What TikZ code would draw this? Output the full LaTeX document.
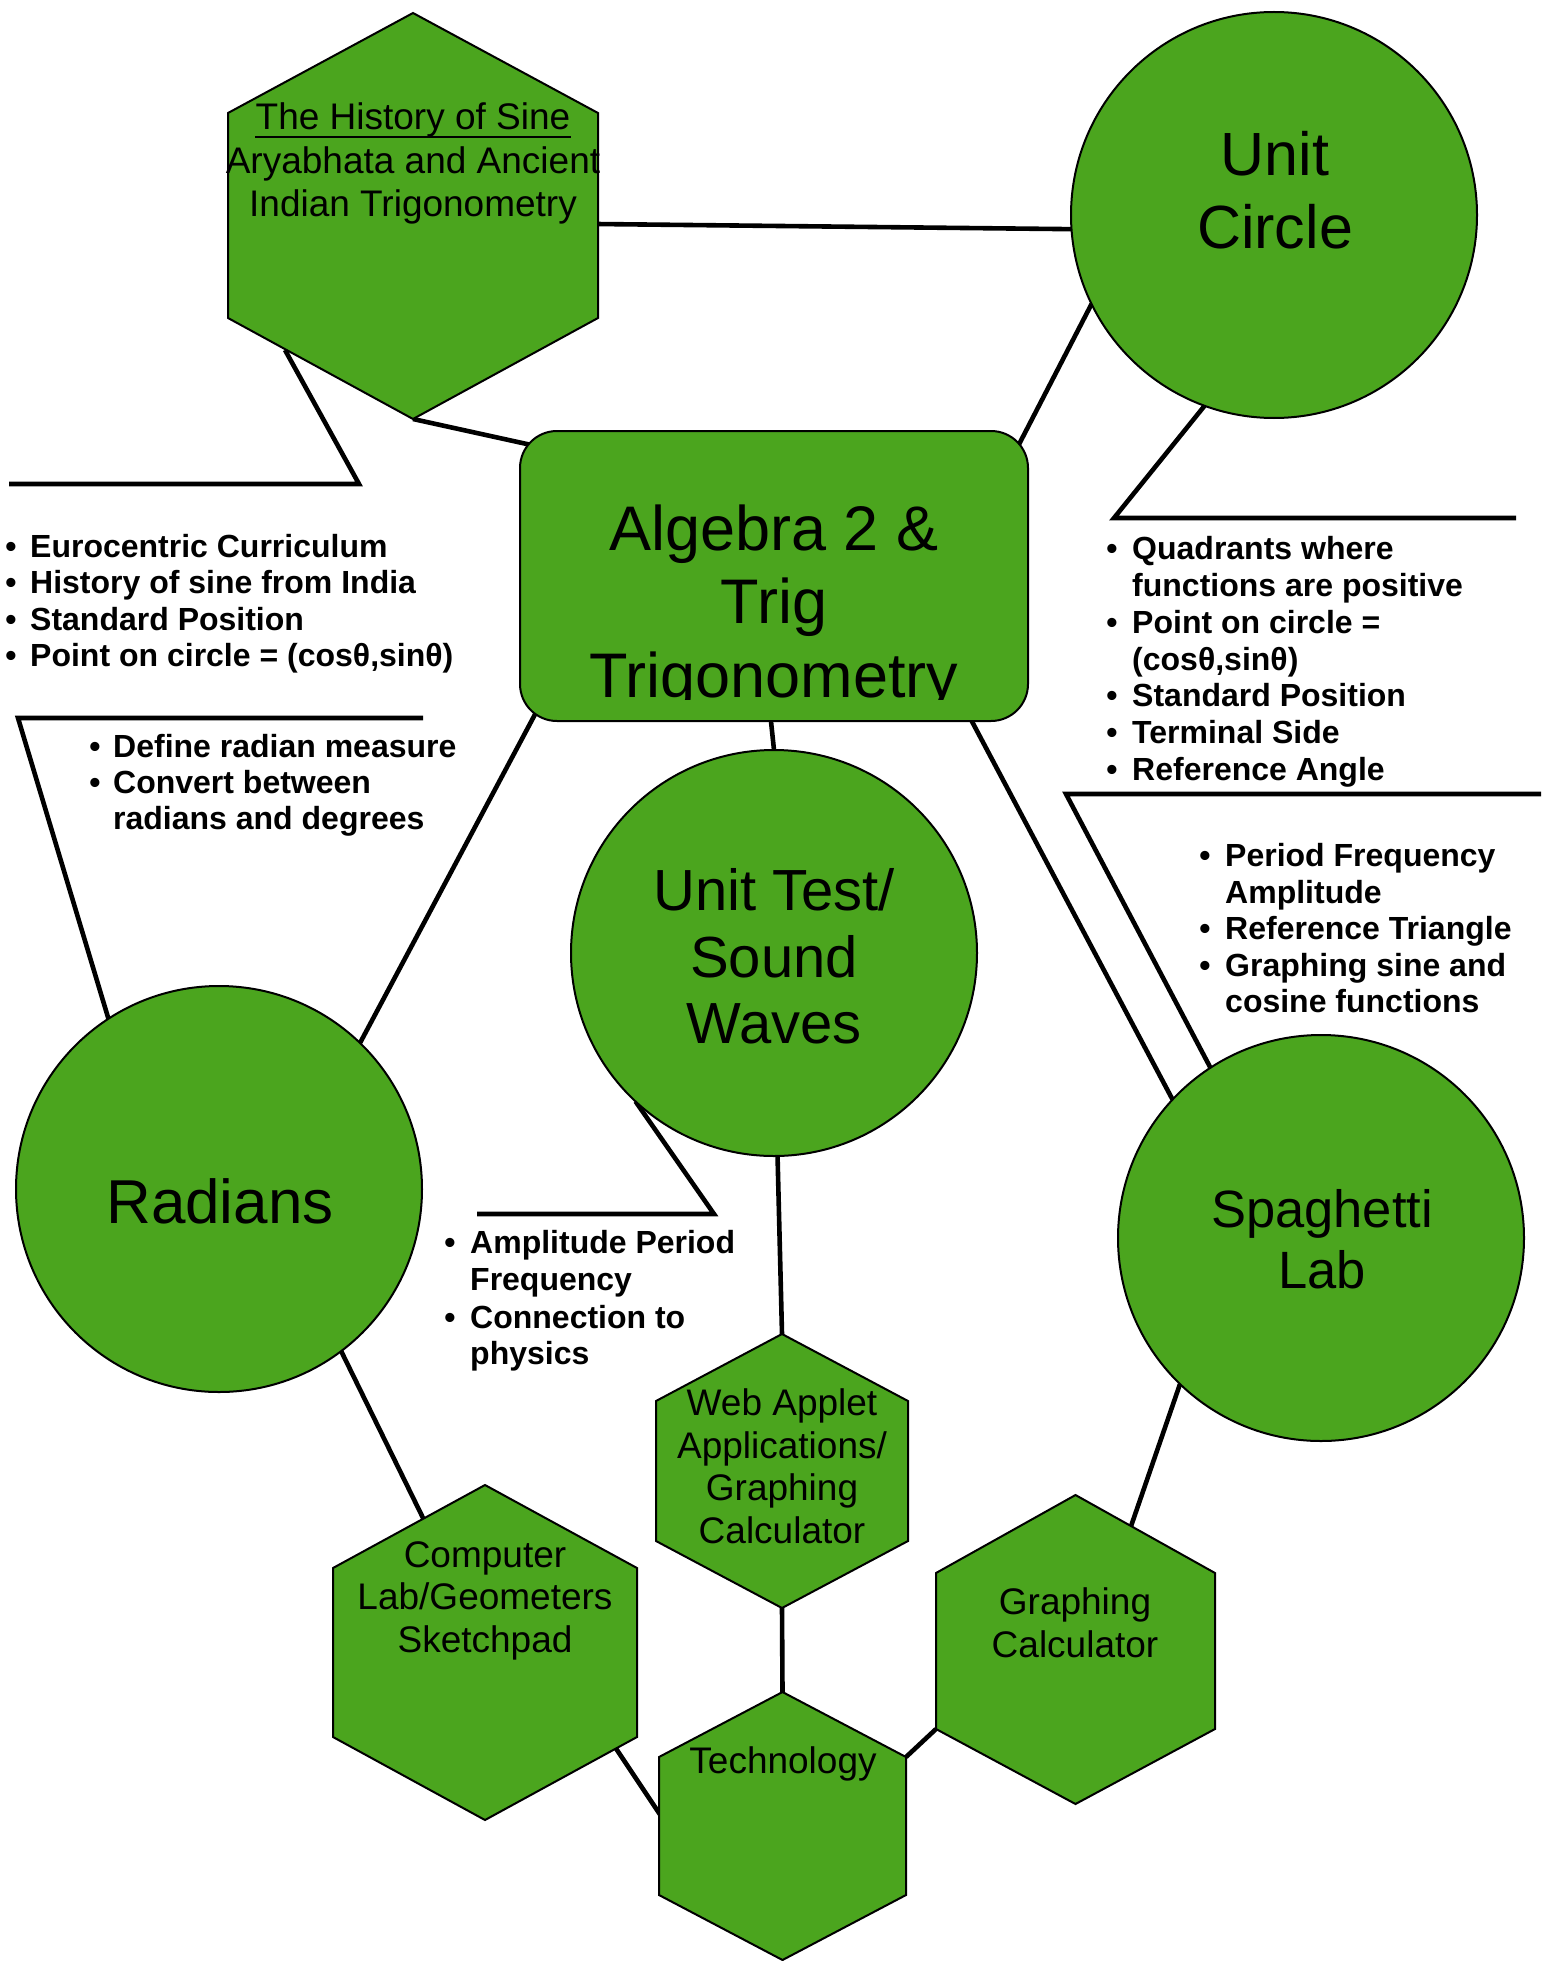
\documentclass[tikz,border=0pt]{standalone}
\usepackage{fontspec}
\setmainfont{Liberation Sans}
\pgfdeclarelayer{back}
\pgfdeclarelayer{bg}
\pgfsetlayers{back,bg,main}
\definecolor{cgreen}{RGB}{75,165,30}
\tikzset{
  shapeline/.style={draw=black, line width=2pt, fill=cgreen},
  conn/.style={line width=4.6pt, draw=black},
  bigcirc/.style={circle, shapeline, minimum size=406pt, inner sep=0pt, outer sep=0pt},
  hexlbl/.style={anchor=base, inner sep=0pt, font=\fontsize{37}{43}\selectfont},
  algtxt/.style={anchor=base, inner sep=0pt, font=\fontsize{63}{73}\selectfont},
  bul/.style={anchor=base, inner sep=0pt, font=\fontsize{32}{37}\selectfont\bfseries},
  bultxt/.style={anchor=base west, inner sep=0pt, font=\fontsize{32}{37}\selectfont\bfseries},
}
\newcommand\myhex[7]{%
  \coordinate (#1-t) at (#2,#3);
  \coordinate (#1-ur) at (#2+#7,#4);
  \coordinate (#1-lr) at (#2+#7,#5);
  \coordinate (#1-b) at (#2,#6);
  \coordinate (#1-ll) at (#2-#7,#5);
  \coordinate (#1-ul) at (#2-#7,#4);
  \draw[shapeline] (#1-t) -- (#1-ur) -- (#1-lr) -- (#1-b) -- (#1-ll) -- (#1-ul) -- cycle;}
\newcommand\mybul[5]{\node[bul] (#1-b) at (#2,#4) {•}; \node[bultxt] (#1) at (#3,#4) {#5};}
\newcommand\mycont[4]{\node[bultxt] (#1) at (#2,#3) {#4};}
\begin{document}
\begin{tikzpicture}[x=1pt,y=-1pt]
\useasboundingbox (0,0) rectangle (1541,1961);
\begin{pgfonlayer}{back}
\fill[white] (0,0) rectangle (1541,1961);
\end{pgfonlayer}

% hexagons
\myhex{hist}{413}{13}{113}{318}{419}{185}
\myhex{web}{782}{1334}{1401}{1541}{1608}{126}
\myhex{comp}{485}{1485}{1568}{1737}{1820}{152}
\myhex{tech}{782.5}{1692}{1757}{1895}{1960}{123.5}
\myhex{gc}{1075.5}{1495}{1573}{1729}{1804}{139.5}

% central box
\node[draw=black, line width=2pt, fill=cgreen, rounded corners=37pt, minimum width=508pt,
      minimum height=290pt, inner sep=0pt, outer sep=0pt] (alg) at (774,576) {};
\begin{scope}
  \clip (520,431) rectangle (1028,699.5);
  \node[algtxt] (a1) at (774,550) {Algebra 2 \&};
  \node[algtxt] (a2) at (774,623) {Trig};
  \node[algtxt] (a3) at (774,697) {Trigonometry};
\end{scope}

% circles
\node[bigcirc] (uc) at (1274,215) {};
\node[bigcirc] (ut) at (774,953) {};
\node[bigcirc] (rad) at (219,1189) {};
\node[bigcirc] (sp) at (1321,1238) {};

% circle labels
\node[anchor=base, inner sep=0pt, font=\fontsize{61}{72}\selectfont] (uc1) at (1275,176) {Unit};
\node[anchor=base, inner sep=0pt, font=\fontsize{61}{72}\selectfont] (uc2) at (1275,249) {Circle};
\node[anchor=base, inner sep=0pt, font=\fontsize{58}{67}\selectfont] (ut1) at (774,910) {Unit Test/};
\node[anchor=base, inner sep=0pt, font=\fontsize{58}{67}\selectfont] (ut2) at (774,977) {Sound};
\node[anchor=base, inner sep=0pt, font=\fontsize{58}{67}\selectfont] (ut3) at (774,1043) {Waves};
\node[anchor=base, inner sep=0pt, font=\fontsize{62}{72}\selectfont] (rad1) at (220,1223) {Radians};
\node[anchor=base, inner sep=0pt, font=\fontsize{52.5}{61}\selectfont] (sp1) at (1322,1227) {Spaghetti};
\node[anchor=base, inner sep=0pt, font=\fontsize{52.5}{61}\selectfont] (sp2) at (1322,1288) {Lab};

% hexagon labels
\node[hexlbl] (h1) at (413,130) {The History of Sine};
\draw[line width=2pt] ([yshift=-7pt]h1.base west) -- ([yshift=-7pt]h1.base east);
\node[hexlbl] (h2) at (413,174) {Aryabhata and Ancient};
\node[hexlbl] (h3) at (413,217) {Indian Trigonometry};
\node[hexlbl] (w1) at (782,1415) {Web Applet};
\node[hexlbl] (w2) at (782,1458) {Applications/};
\node[hexlbl] (w3) at (782,1500) {Graphing};
\node[hexlbl] (w4) at (782,1543) {Calculator};
\node[hexlbl] (c1) at (485,1567) {Computer};
\node[hexlbl] (c2) at (485,1609) {Lab/Geometers};
\node[hexlbl] (c3) at (485,1652) {Sketchpad};
\node[hexlbl] (t1) at (783,1773) {Technology};
\node[hexlbl] (g1) at (1075,1614) {Graphing};
\node[hexlbl] (g2) at (1075,1657) {Calculator};

% bullet lists
\mybul{l1}{11}{30}{557}{Eurocentric Curriculum}
\mybul{l2}{11}{30}{593}{History of sine from India}
\mybul{l3}{11}{30}{630}{Standard Position}
\mybul{l4}{11}{30}{666}{Point on circle = (cosθ,sinθ)}

\mybul{r1}{95}{113}{757}{Define radian measure}
\mybul{r2}{95}{113}{793}{Convert between}
\mycont{r3}{113}{829}{radians and degrees}

\mybul{q1}{1112}{1132}{559}{Quadrants where}
\mycont{q2}{1132}{596}{functions are positive}
\mybul{q3}{1112}{1132}{633}{Point on circle =}
\mycont{q4}{1132}{670}{(cosθ,sinθ)}
\mybul{q5}{1112}{1132}{706}{Standard Position}
\mybul{q6}{1112}{1132}{743}{Terminal Side}
\mybul{q7}{1112}{1132}{780}{Reference Angle}

\mybul{s1}{1205}{1225}{866}{Period Frequency}
\mycont{s2}{1225}{903}{Amplitude}
\mybul{s3}{1205}{1225}{939}{Reference Triangle}
\mybul{s4}{1205}{1225}{976}{Graphing sine and}
\mycont{s5}{1225}{1012}{cosine functions}

\mybul{u1}{450}{470}{1253}{Amplitude Period}
\mycont{u2}{470}{1290}{Frequency}
\mybul{u3}{450}{470}{1328}{Connection to}
\mycont{u4}{470}{1364}{physics}

% connector end points
\coordinate (hist-c1) at (596,224);
\coordinate (hist-c2) at (285,350);
\coordinate (c3a) at (359,484);
\coordinate (c3b) at (9,484);
\coordinate (alg-c1) at (545,448);
\coordinate (alg-c2) at (1014,454);
\coordinate (alg-c3) at (540,705);
\coordinate (alg-c4) at (770,712);
\coordinate (alg-c5) at (968,714);
\coordinate (c5a) at (1114,518);
\coordinate (c5b) at (1516,518);
\coordinate (c9a) at (1066,794);
\coordinate (c9b) at (1541,794);
\coordinate (c10a) at (18,718);
\coordinate (c10b) at (423,718);
\coordinate (c11a) at (714,1214);
\coordinate (c11b) at (477,1214);
\coordinate (comp-c1) at (425,1522);
\coordinate (comp-c2) at (611,1741);
\coordinate (tech-c1) at (663,1819);
\coordinate (gc-c1) at (1129,1532);

\begin{pgfonlayer}{bg}
  \draw[conn] (hist-c1) -- (uc.184.5);
  \draw[conn] (hist-b) -- (alg-c1);
  \draw[conn] (hist-c2) -- (c3a) -- (c3b);
  \draw[conn] (uc.206) -- (alg-c2);
  \draw[conn] (uc.250.6) -- (c5a) -- (c5b);
  \draw[conn] (alg-c3) -- (rad.46);
  \draw[conn] (alg-c4) -- (ut.90.6);
  \draw[conn] (alg-c5) -- (sp.137.5);
  \draw[conn] (c9b) -- (c9a) -- (sp.123.3);
  \draw[conn] (c10b) -- (c10a) -- (rad.123.2);
  \draw[conn] (ut.227.6) -- (c11a) -- (c11b);
  \draw[conn] (ut.271.1) -- (web-t);
  \draw[conn] (rad.307.2) -- (comp-c1);
  \draw[conn] (sp.226) -- (gc-c1);
  \draw[conn] (web-b) -- (tech-t);
  \draw[conn] (comp-c2) -- (tech-c1);
  \draw[conn] (tech-ur) -- (gc-ll);
\end{pgfonlayer}
\end{tikzpicture}
\end{document}
